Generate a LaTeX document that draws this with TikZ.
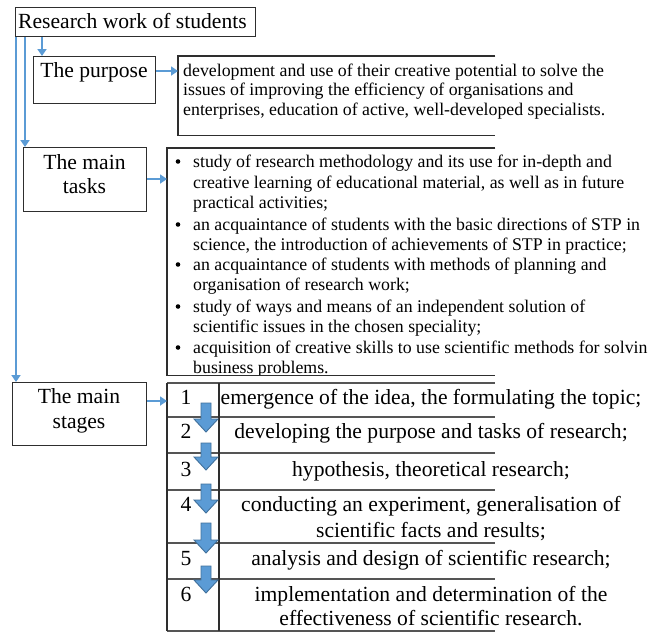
\documentclass[tikz,border=0pt]{standalone}
\usepackage{fontspec}
\setmainfont{Liberation Serif}
\usetikzlibrary{arrows.meta,calc}
\definecolor{bl}{HTML}{5B9BD5}
\definecolor{bld}{HTML}{41719C}
\definecolor{frame}{HTML}{2E2E2E}
\definecolor{rowline}{HTML}{555555}
\tikzset{
  box/.style={draw=frame, line width=1.1pt, inner sep=0, anchor=north west},
  hidbox/.style={inner sep=0, anchor=north west},
  big/.style={font=\fontsize{21.6}{24}\selectfont, inner sep=0, anchor=base},
  bigl/.style={font=\fontsize{21.6}{24}\selectfont, inner sep=0, anchor=base west},
  small/.style={font=\fontsize{17.8}{20}\selectfont, inner sep=0, anchor=base west},
  bulletdot/.style={circle, fill=black, inner sep=0, minimum size=4.6pt},
  conn/.style={draw=bl, line width=2.6pt, -{Triangle[width=9pt,length=7pt]}},
  openbox/.style={draw=frame, line width=1.1pt},
  rowsep/.style={draw=rowline, line width=1.6pt},
  blockarrow/.style={fill=bl, draw=bld, line width=0.9pt}
}
\newcommand\blockdown[2]{%
  \path[blockarrow] (201,#1) -- (211,#1) -- (211,#2-13) -- (218,#2-13) -- (206,#2)
     -- (194,#2-13) -- (201,#2-13) -- cycle;}
\begin{document}
\begin{tikzpicture}[x=1pt,y=-1pt]
\useasboundingbox (0,0) rectangle (650,633);
\fill[white] (0,0) rectangle (650,633);

% left boxes
\node[box, minimum width=240pt, minimum height=29pt] (title) at (15,7) {};
\node[bigl] (titlet) at (18,28) {Research work of students};

\node[box, minimum width=122pt, minimum height=47pt] (purp) at (33,56) {};
\node[big] (purpt) at (94,77) {The purpose};

\node[box, minimum width=123pt, minimum height=64pt] (tasks) at (23,147) {};
\node[big] (taskst1) at (84.5,169) {The main};
\node[big] (taskst2) at (84.5,193) {tasks};

\node[box, minimum width=134pt, minimum height=63pt] (stages) at (12,382) {};
\node[big] (stagest1) at (79,403) {The main};
\node[big] (stagest2) at (79,428) {stages};

% right boxes (open on the right)
\node[hidbox, minimum width=317pt, minimum height=79pt] (purpbox) at (178,56) {};
\draw[openbox] (purpbox.north east) -- (purpbox.north west) -- (purpbox.south west) -- (purpbox.south east);
\node[small] (p1) at (183,76) {development and use of their creative potential to solve the};
\node[small] (p2) at (183,95) {issues of improving the efficiency of organisations and};
\node[small] (p3) at (183,115) {enterprises, education of active, well-developed specialists.};

\node[hidbox, minimum width=328pt, minimum height=227pt] (taskbox) at (167,148) {};
\draw[openbox] (taskbox.north east) -- (taskbox.north west) -- (taskbox.south west) -- (taskbox.south east);
\begin{scope}
\clip (167,148) rectangle (650,374);
\foreach \y [count=\i] in {167,230,270,312,353}
  \node[bulletdot] (b\i) at (178,\y-5.5) {};
\node[small] (t1) at (193,167) {study of research methodology and its use for in-depth and};
\node[small] (t2) at (193,188) {creative learning of educational material, as well as in future};
\node[small] (t3) at (193,208) {practical activities;};
\node[small] (t4) at (193,230) {an acquaintance of students with the basic directions of STP in};
\node[small] (t5) at (193,250) {science, the introduction of achievements of STP in practice;};
\node[small] (t6) at (193,270) {an acquaintance of students with methods of planning and};
\node[small] (t7) at (193,290) {organisation of research work;};
\node[small] (t8) at (193,312) {study of ways and means of an independent solution of};
\node[small] (t9) at (193,332) {scientific issues in the chosen speciality;};
\node[small] (t10) at (193,353) {acquisition of creative skills to use scientific methods for solvin};
\node[small] (t11) at (193,373) {business problems.};
\end{scope}

% table of stages
\node[hidbox, minimum width=328pt, minimum height=248pt] (table) at (167,383) {};
\foreach \y in {383,417,453,490,543,579,631}
  \draw[rowsep] (167,\y) -- (495,\y);
\draw[openbox] (167,383) -- (167,631);
\draw[openbox] (219,383) -- (219,631);

\node[big] (n1) at (186,404) {1};
\node[big] (n2) at (186,438) {2};
\node[big] (n3) at (186,476) {3};
\node[big] (n4) at (186,511) {4};
\node[big] (n5) at (186,565) {5};
\node[big] (n6) at (186,601) {6};

\node[big] (s1) at (431,404) {emergence of the idea, the formulating the topic;};
\node[big] (s2) at (431,438) {developing the purpose and tasks of research;};
\node[big] (s3) at (431,476) {hypothesis, theoretical research;};
\node[big] (s4a) at (431,511) {conducting an experiment, generalisation of};
\node[big] (s4b) at (431,537) {scientific facts and results;};
\node[big] (s5) at (431,565) {analysis and design of scientific research;};
\node[big] (s6a) at (431,601) {implementation and determination of the};
\node[big] (s6b) at (431,625) {effectiveness of scientific research.};

\blockdown{403}{432}
\blockdown{443}{470}
\blockdown{484}{513}
\blockdown{523}{553}
\blockdown{566}{593}

% connectors
\draw[conn] ($(title.south west)+(27,0)$) coordinate (c1) -- (c1 |- purp.north);
\draw[conn] ($(title.south west)+(10,0)$) coordinate (c2) -- (c2 |- tasks.north);
\draw[conn] ($(title.south west)+(1,0)$) coordinate (c3) -- (c3 |- stages.north);
\draw[conn] (purp.east |- 0,71) coordinate (c4) -- (c4 -| purpbox.west);
\draw[conn] (tasks.east |- 0,179) coordinate (c5) -- (c5 -| taskbox.west);
\draw[conn] (stages.east |- 0,401) coordinate (c6) -- (c6 -| table.west);
\end{tikzpicture}
\end{document}
